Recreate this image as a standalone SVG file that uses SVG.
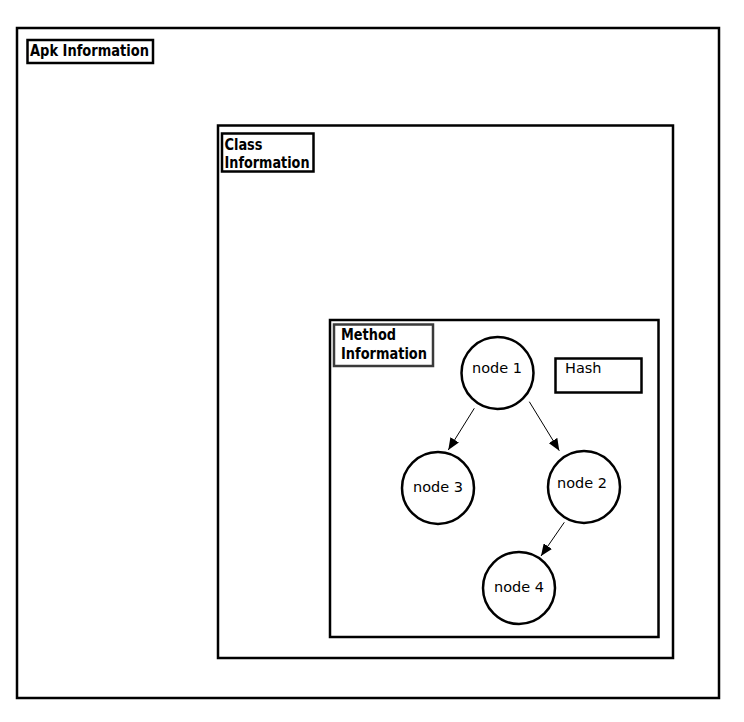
<svg xmlns="http://www.w3.org/2000/svg" width="744" height="722" viewBox="0 0 744 722">
<style>
.box{fill:none;stroke:#000;stroke-width:2.5}
.lbl{fill:#fff;stroke:#000;stroke-width:2.5}
.lt{font-family:"DejaVu Sans Condensed","DejaVu Sans",sans-serif;font-stretch:condensed;font-weight:bold;font-size:16px;fill:#000}
.node{fill:#fff;stroke:#000;stroke-width:2.5}
.nt{font-family:"DejaVu Sans",sans-serif;font-size:14.5px;fill:#000;text-anchor:middle}
.edge{stroke:#000;stroke-width:1;fill:none}
</style>
<defs>
<marker id="ah" markerUnits="userSpaceOnUse" markerWidth="13" markerHeight="10" refX="12" refY="5" orient="auto">
<path d="M0,0 L12,5 L0,10 z" fill="#000"/>
</marker>
</defs>
<rect width="744" height="722" fill="#fff"/>
<g id="apk">
<rect class="box" x="17" y="28" width="702" height="670"/>
<rect class="lbl" x="27.5" y="40" width="125.5" height="23"/>
<text class="lt" x="30" y="56" textLength="119" lengthAdjust="spacingAndGlyphs">Apk Information</text>
</g>
<g id="class">
<rect class="box" x="218" y="125.5" width="455" height="532.5"/>
<rect class="lbl" x="222" y="133.5" width="91.5" height="38"/>
<text class="lt" x="224.5" y="149.5" textLength="38" lengthAdjust="spacingAndGlyphs">Class</text>
<text class="lt" x="224.5" y="168" textLength="85" lengthAdjust="spacingAndGlyphs">Information</text>
</g>
<g id="method">
<rect class="box" x="330" y="320" width="328.5" height="317"/>
<rect class="lbl" x="334" y="324.5" width="99" height="41.5" style="stroke:#3a3a3a"/>
<text class="lt" x="341" y="339.5" textLength="55" lengthAdjust="spacingAndGlyphs">Method</text>
<text class="lt" x="341" y="358.5" textLength="86" lengthAdjust="spacingAndGlyphs">Information</text>
</g>
<g id="hash">
<rect class="lbl" x="555.5" y="358.5" width="86" height="34"/>
<text class="nt" x="565" y="373" style="text-anchor:start;font-size:14.5px">Hash</text>
</g>
<g id="connectors">
<line class="edge" x1="474.3" y1="408.3" x2="448.3" y2="450" marker-end="url(#ah)"/>
<line class="edge" x1="529.3" y1="401.7" x2="559.3" y2="450.7" marker-end="url(#ah)"/>
<line class="edge" x1="564.3" y1="522.3" x2="541" y2="556" marker-end="url(#ah)"/>
</g>
<g id="node1">
<circle class="node" cx="497.5" cy="373" r="36"/>
<text class="nt" x="497" y="373">node 1</text>
</g>
<g id="node3">
<circle class="node" cx="438" cy="488" r="36"/>
<text class="nt" x="438" y="492">node 3</text>
</g>
<g id="node2">
<circle class="node" cx="584" cy="487" r="36"/>
<text class="nt" x="582" y="488">node 2</text>
</g>
<g id="node4">
<circle class="node" cx="519" cy="588" r="36"/>
<text class="nt" x="519" y="592">node 4</text>
</g>
</svg>
